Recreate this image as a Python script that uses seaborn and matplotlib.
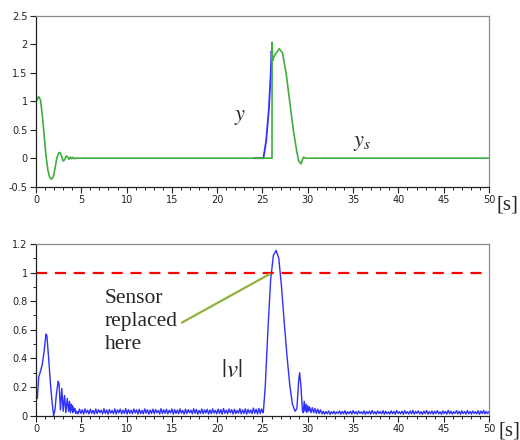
import numpy as np
import pandas as pd
import matplotlib
matplotlib.use("Agg")
import matplotlib.pyplot as plt
import seaborn as sns
from matplotlib.ticker import MultipleLocator, FuncFormatter

# ---------------- data ----------------
# top panel: sensor output ys (green)
t_ys = [0, 0.02, 0.3, 0.5, 0.7, 0.9, 1.1, 1.3, 1.5, 1.7, 1.9, 2.1, 2.3, 2.5, 2.65,
        2.8, 3.0, 3.15, 3.35, 3.5, 3.65, 3.8, 3.95, 4.1, 4.25, 4.4, 4.6, 26.05,
        26.06, 26.12, 26.4, 26.85, 27.2, 27.6, 28.0, 28.4, 28.8, 29.0, 29.25,
        29.4, 29.55, 29.7, 50]
v_ys = [0.78, 1.0, 1.08, 1.02, 0.75, 0.4, 0.05, -0.2, -0.33, -0.37, -0.33, -0.18,
        0.0, 0.09, 0.1, 0.05, -0.05, -0.03, 0.04, 0.02, -0.02, 0.02, -0.01, 0.015,
        -0.01, 0.005, 0.0, 0.0, 2.03, 1.72, 1.82, 1.92, 1.85, 1.5, 1.0, 0.5, 0.1,
        -0.05, -0.1, -0.03, 0.02, 0.0, 0.0]
# top panel: true output y (blue), visible where it departs from ys
t_y = [24.0, 25.1, 25.4, 25.7, 25.9, 26.0, 26.05, 26.12]
v_y = [0.0, 0.0, 0.3, 0.85, 1.45, 1.88, 1.75, 1.72]

# bottom panel: |v|
t_v_start = [0, 0.05, 0.15, 0.3, 0.5, 0.7, 0.9, 1.1, 1.2, 1.4, 1.6, 1.8, 1.95, 2.1,
             2.25, 2.45, 2.55, 2.7, 2.85, 3.0, 3.15, 3.3, 3.45, 3.6, 3.7, 3.8, 3.9,
             3.95, 4.0, 4.05, 4.1, 4.2, 4.3, 4.4]
v_v_start = [0.08, 0.16, 0.12, 0.27, 0.31, 0.36, 0.45, 0.57, 0.56, 0.4, 0.22, 0.08,
             0.0, 0.04, 0.15, 0.24, 0.22, 0.04, 0.19, 0.03, 0.14, 0.02, 0.12, 0.03,
             0.1, 0.02, 0.08, 0.04, 0.07, 0.02, 0.06, 0.03, 0.05, 0.015]
v_v_mid = [
    0.03, 0.012, 0.045, 0.015, 0.04, 0.01, 0.047, 0.018, 0.038, 0.012,
    0.044, 0.016, 0.036, 0.011, 0.046, 0.014, 0.041, 0.02, 0.037, 0.012,
    0.048, 0.015, 0.039, 0.01, 0.043, 0.017, 0.036, 0.013, 0.047, 0.011,
    0.04, 0.019, 0.045, 0.012, 0.038, 0.015, 0.049, 0.01, 0.042, 0.016,
    0.037, 0.013, 0.046, 0.018, 0.04, 0.011, 0.044, 0.014, 0.036, 0.012,
    0.047, 0.017, 0.041, 0.01, 0.038, 0.015, 0.045, 0.013, 0.043, 0.019,
    0.036, 0.011, 0.048, 0.014, 0.04, 0.016, 0.044, 0.012, 0.037, 0.018,
    0.046, 0.01, 0.042, 0.015, 0.039, 0.013, 0.047, 0.017, 0.035, 0.011,
    0.045, 0.014, 0.041, 0.019, 0.038, 0.012, 0.048, 0.016, 0.043, 0.01,
    0.036, 0.015, 0.046, 0.013, 0.04, 0.018, 0.044, 0.011, 0.039, 0.014,
    0.047, 0.017, 0.037, 0.012, 0.045, 0.015, 0.042, 0.01, 0.049, 0.016,
    0.038, 0.013, 0.046, 0.019, 0.041, 0.011, 0.044, 0.014, 0.036, 0.017,
    0.048, 0.012, 0.04, 0.015, 0.047, 0.01, 0.043, 0.018, 0.039, 0.013,
    0.052, 0.016, 0.045, 0.011, 0.05, 0.014, 0.046, 0.02]
t_v_peak = [25.1, 25.3, 25.6, 25.9, 26.2, 26.5, 26.8, 27.1, 27.4, 27.7, 28.0, 28.3,
            28.6, 28.8, 29.0, 29.1, 29.25, 29.4, 29.5, 29.6, 29.7, 29.8, 29.9, 30.0,
            30.1, 30.2, 30.35, 30.5, 30.65, 30.8, 30.95, 31.1, 31.25, 31.4]
v_v_peak = [0.03, 0.2, 0.6, 0.95, 1.12, 1.155, 1.1, 0.9, 0.65, 0.42, 0.22, 0.08,
            0.03, 0.05, 0.25, 0.3, 0.2, 0.04, 0.02, 0.1, 0.03, 0.08, 0.02, 0.07,
            0.03, 0.06, 0.02, 0.055, 0.02, 0.05, 0.015, 0.045, 0.015, 0.04]
v_v_tail = [
    0.012, 0.03, 0.01, 0.028, 0.013, 0.032, 0.009, 0.027, 0.014, 0.031,
    0.011, 0.026, 0.015, 0.033, 0.01, 0.029, 0.012, 0.034, 0.009, 0.027,
    0.014, 0.03, 0.011, 0.035, 0.013, 0.028, 0.01, 0.032, 0.015, 0.026,
    0.012, 0.033, 0.009, 0.029, 0.014, 0.031, 0.011, 0.036, 0.013, 0.027,
    0.01, 0.032, 0.015, 0.028, 0.012, 0.034, 0.009, 0.03, 0.014, 0.026,
    0.011, 0.033, 0.013, 0.029, 0.01, 0.035, 0.015, 0.027, 0.012, 0.031,
    0.009, 0.034, 0.014, 0.028, 0.011, 0.032, 0.013, 0.036, 0.01, 0.029,
    0.015, 0.033, 0.012, 0.027, 0.009, 0.031, 0.014, 0.035, 0.011, 0.028,
    0.013, 0.032, 0.01, 0.03, 0.015, 0.034, 0.012, 0.026, 0.009, 0.033,
    0.014, 0.029, 0.011, 0.036, 0.013, 0.031, 0.01, 0.027, 0.015, 0.034,
    0.012, 0.03, 0.009, 0.033, 0.014, 0.028, 0.011, 0.035, 0.013, 0.029,
    0.01, 0.032, 0.015, 0.027, 0.012, 0.034, 0.009, 0.031, 0.014, 0.036,
    0.011, 0.03, 0.013, 0.028]
threshold = 1.0

# sample times of the noisy stretches (fixed sampling step)
t_v_mid = list(4.5 + 0.15 * np.arange(len(v_v_mid)))
t_v_tail = list(31.55 + 0.15 * np.arange(len(v_v_tail)))

t_v = t_v_start + t_v_mid + t_v_peak + t_v_tail
v_v = v_v_start + v_v_mid + v_v_peak + v_v_tail

df_ys = pd.DataFrame({"t": t_ys, "val": v_ys})
df_y = pd.DataFrame({"t": t_y, "val": v_y})
df_v = pd.DataFrame({"t": t_v, "val": v_v})

# ---------------- figure ----------------
sns.set_style("ticks")
plt.rcParams["mathtext.fontset"] = "stix"
plt.rcParams["font.family"] = ["DejaVu Sans"]

GREEN = "#3fae3f"
BLUE = "#2f2fff"
SERIF = ["Liberation Serif", "DejaVu Serif"]

fig = plt.figure(figsize=(5.2, 4.4), dpi=100)
ax1 = fig.add_axes([0.0692, 0.5757, 0.8712, 0.3886])
ax2 = fig.add_axes([0.0692, 0.0555, 0.8712, 0.3900])

sns.lineplot(data=df_y, x="t", y="val", ax=ax1, color=BLUE, lw=1.3,
             estimator=None, sort=False)
sns.lineplot(data=df_ys, x="t", y="val", ax=ax1, color=GREEN, lw=1.2,
             estimator=None, sort=False)
sns.lineplot(data=df_v, x="t", y="val", ax=ax2, color=BLUE, lw=1.0,
             estimator=None, sort=False)
ax2.axhline(threshold, color="#ff0000", lw=1.6, dashes=(5, 3.5))

ax1.set_xlim(0, 50)
ax1.set_ylim(-0.5, 2.5)
ax1.yaxis.set_major_locator(MultipleLocator(0.5))
ax2.set_xlim(0, 50)
ax2.set_ylim(0, 1.2)
ax2.yaxis.set_major_locator(MultipleLocator(0.2))
ax2.yaxis.set_minor_locator(MultipleLocator(0.1))

fmt = FuncFormatter(lambda v, p: f"{v:g}")
for ax in (ax1, ax2):
    ax.set_xlabel("")
    ax.set_ylabel("")
    ax.xaxis.set_major_locator(MultipleLocator(5))
    ax.xaxis.set_minor_locator(MultipleLocator(1))
    ax.xaxis.set_major_formatter(fmt)
    ax.yaxis.set_major_formatter(fmt)
    ax.tick_params(which="major", direction="out", length=4, width=0.8,
                   labelsize=7, pad=2, colors="#222222", labelcolor="#222222")
    ax.tick_params(which="minor", direction="out", length=2, width=0.7,
                   colors="#222222")
    for s in ("left", "bottom"):
        ax.spines[s].set_color("#222222")
        ax.spines[s].set_linewidth(0.9)
    for s in ("top", "right"):
        ax.spines[s].set_visible(True)
        ax.spines[s].set_color("#8a8a8a")
        ax.spines[s].set_linewidth(0.9)

# labels
ax1.text(22.5, 0.73, r"$y$", fontsize=16, ha="center", va="center")
ax1.text(36.0, 0.26, r"$y_s$", fontsize=16, ha="center", va="center")
ax2.text(21.6, 0.32, r"$|v|$", fontsize=18, ha="center", va="center")
ax2.text(7.6, 0.885, "Sensor\nreplaced\nhere", fontsize=15.5, ha="left", va="top",
         family=SERIF, linespacing=1.3)
ax2.annotate("", xy=(25.8, 0.99), xytext=(16.1, 0.65),
             arrowprops=dict(arrowstyle="-", color="#8db33a", lw=1.6,
                             shrinkA=0, shrinkB=0))

fig.text(0.955, 0.533, "[s]", fontsize=15, ha="left", va="center", family=SERIF)
fig.text(0.958, 0.020, "[s]", fontsize=15, ha="left", va="center", family=SERIF)

fig.savefig("out.png", dpi=100)
